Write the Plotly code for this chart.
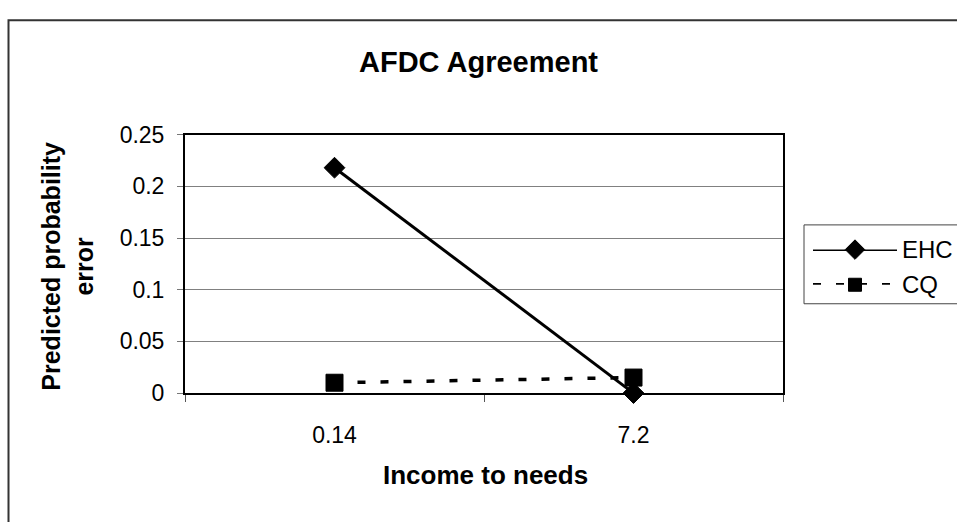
import plotly.graph_objects as go

# Chart data
categories = ["0.14", "7.2"]
ehc_values = [0.218, 0.0]
cq_values = [0.010, 0.015]
series_names = ["EHC", "CQ"]

W, H = 957, 522
FONT = "Liberation Sans, Arial, sans-serif"

# plot area in pixels
px_left, px_right, px_top, px_bottom = 185, 783, 128, 400


def fx(px):
    return px / W


def fy(py):
    return 1 - py / H


fig = go.Figure()

fig.add_trace(go.Scatter(
    x=categories, y=ehc_values, name=series_names[0], mode="lines+markers",
    line=dict(color="black", width=3),
    marker=dict(symbol="diamond", size=16, color="black", line=dict(color="black", width=1)),
    cliponaxis=False, showlegend=False,
))
fig.add_trace(go.Scatter(
    x=categories, y=cq_values, name=series_names[1], mode="lines+markers",
    line=dict(color="black", width=3.5, dash="8px,15px"),
    marker=dict(symbol="square", size=17, color="black", line=dict(color="black", width=1)),
    cliponaxis=False, showlegend=False,
))

# legend samples drawn on a small auxiliary axis pair
leg_line_x = [0, 1]
leg_mark_x = [0.5]
fig.add_trace(go.Scatter(
    x=leg_line_x, y=[1, 1], xaxis="x2", yaxis="y2", mode="lines",
    line=dict(color="black", width=3),
    cliponaxis=False, showlegend=False, hoverinfo="skip",
))
fig.add_trace(go.Scatter(
    x=leg_mark_x, y=[1], xaxis="x2", yaxis="y2", mode="markers",
    marker=dict(symbol="diamond", size=15, color="black", line=dict(color="black", width=1)),
    cliponaxis=False, showlegend=False, hoverinfo="skip",
))
fig.add_trace(go.Scatter(
    x=leg_line_x, y=[0, 0], xaxis="x2", yaxis="y2", mode="lines",
    line=dict(color="black", width=3.5, dash="8px,15px"),
    cliponaxis=False, showlegend=False, hoverinfo="skip",
))
fig.add_trace(go.Scatter(
    x=leg_mark_x, y=[0], xaxis="x2", yaxis="y2", mode="markers",
    marker=dict(symbol="square", size=13, color="black", line=dict(color="black", width=1)),
    cliponaxis=False, showlegend=False, hoverinfo="skip",
))

fig.update_layout(
    width=W, height=H,
    margin=dict(l=0, r=0, t=0, b=0),
    paper_bgcolor="white", plot_bgcolor="white",
    font=dict(family=FONT, color="black"),
    showlegend=False,
    xaxis=dict(
        domain=[fx(px_left), fx(px_right)],
        type="category", range=[-0.5, 1.5],
        tickson="boundaries", ticks="outside", ticklen=7, tickwidth=1, tickcolor="#555",
        showline=True, linecolor="black", linewidth=2, mirror=True,
        showgrid=False, zeroline=False,
        tickfont=dict(size=23, family=FONT),
        ticklabelstandoff=20,
        anchor="y",
    ),
    yaxis=dict(
        domain=[fy(px_bottom), fy(px_top)],
        range=[0, 0.25], dtick=0.05,
        ticks="outside", ticklen=6, tickwidth=1, tickcolor="#777",
        showline=True, linecolor="black", linewidth=2, mirror=True,
        showgrid=True, gridcolor="#808080", gridwidth=1, zeroline=False,
        tickfont=dict(size=23, family=FONT),
        ticklabelstandoff=8,
        anchor="x",
    ),
    xaxis2=dict(domain=[fx(813), fx(897)], range=[0, 1], visible=False, anchor="y2", fixedrange=True),
    yaxis2=dict(domain=[fy(286), fy(249)], range=[0, 1], visible=False, anchor="x2", fixedrange=True),
)

shapes = [
    # outer chart frame
    dict(type="rect", xref="paper", yref="paper",
         x0=fx(8.5), x1=fx(970), y0=fy(540), y1=fy(7.5),
         line=dict(color="#333", width=2), fillcolor="rgba(0,0,0,0)", layer="below"),
    # legend box
    dict(type="rect", xref="paper", yref="paper",
         x0=fx(804), x1=fx(975), y0=fy(306), y1=fy(223),
         line=dict(color="#444", width=1), fillcolor="rgba(0,0,0,0)"),
]
fig.update_layout(shapes=shapes)

annotations = [
    dict(text="<b>AFDC Agreement</b>", x=fx(478), y=fy(52), xref="paper", yref="paper",
         showarrow=False, xanchor="center", yanchor="middle", font=dict(size=29, family=FONT)),
    dict(text="<b>Income to needs</b>", x=fx(485), y=fy(486), xref="paper", yref="paper",
         showarrow=False, xanchor="center", yanchor="middle", font=dict(size=26, family=FONT)),
    dict(text="<b>Predicted probability<br>error</b>", x=fx(68), y=fy(267), xref="paper", yref="paper",
         showarrow=False, xanchor="center", yanchor="middle", textangle=-90,
         font=dict(size=25, family=FONT)),
    dict(text=series_names[0], x=fx(900), y=fy(249), xref="paper", yref="paper",
         showarrow=False, xanchor="left", yanchor="middle", font=dict(size=24, family=FONT)),
    dict(text=series_names[1], x=fx(900), y=fy(286), xref="paper", yref="paper",
         showarrow=False, xanchor="left", yanchor="middle", font=dict(size=24, family=FONT)),
]
fig.update_layout(annotations=annotations)

fig.write_html("out.html")
